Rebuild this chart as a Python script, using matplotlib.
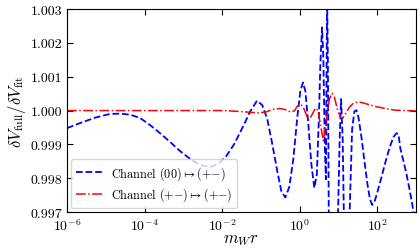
import numpy as np
import matplotlib
matplotlib.use("Agg")
import matplotlib.pyplot as plt
from matplotlib.ticker import FixedLocator, NullLocator

plt.rcParams['font.family'] = 'serif'
plt.rcParams['font.serif'] = ['cmr10']
plt.rcParams['mathtext.fontset'] = 'cm'
plt.rcParams['axes.unicode_minus'] = False
plt.rcParams['axes.formatter.use_mathtext'] = True

# channel (00) -> (+-) (log10 of m_W r, ratio)
log_r_00 = [-6.0, -5.664, -5.276, -4.889, -4.630, -4.372, -4.114, -3.855, -3.597, -3.339,
            -3.080, -2.822, -2.563, -2.305, -2.098, -1.891, -1.685, -1.478, -1.271, -1.098,
            -0.961, -0.832, -0.703, -0.574, -0.470, -0.367, -0.264, -0.160, -0.057, 0.021,
            0.090, 0.150, 0.227, 0.305, 0.382, 0.447, 0.499, 0.537, 0.581, 0.615,
            0.654, 0.680, 0.711, 0.731, 0.757, 0.873, 0.990, 1.036, 1.072, 1.114,
            1.145, 1.209, 1.295, 1.357, 1.416, 1.468, 1.519, 1.597, 1.674, 1.752,
            1.817, 1.873, 1.933, 2.010, 2.114, 2.217, 2.320, 2.424, 2.501, 2.553,
            2.604, 2.682, 2.760, 2.837, 2.915, 2.966]
ratio_00 = [0.99948, 0.99963, 0.99979, 0.99990, 0.99991, 0.99988, 0.99978, 0.99957, 0.99933, 0.99907,
            0.99880, 0.99857, 0.99839, 0.99833, 0.99842, 0.99865, 0.99901, 0.99948, 0.99998, 1.00029,
            1.00016, 0.99975, 0.99901, 0.99821, 0.99762, 0.99743, 0.99774, 0.99857, 0.99981, 1.00058,
            1.00083, 1.00058, 0.99960, 0.99842, 0.99771, 0.99812, 0.99975, 1.00137, 1.00246, 1.00152,
            0.99886, 0.99797, 1.00344, 1.00152, 0.99650, 0.99561, 0.99679, 0.99916, 1.00034, 0.99916,
            0.99679, 0.99590, 0.99709, 0.99945, 0.99998, 1.00001, 0.99981, 0.99922, 0.99851, 0.99783,
            0.99738, 0.99721, 0.99730, 0.99759, 0.99803, 0.99848, 0.99889, 0.99922, 0.99933, 0.99930,
            0.99886, 0.99851, 0.99812, 0.99768, 0.99718, 0.99679]

# channel (+-) -> (+-)
log_r_pm = [-6.0, -5.0, -4.0, -3.0, -2.0, -1.788, -1.40, -1.066, -0.858, -0.703,
            -0.522, -0.367, -0.238, -0.134, -0.057, 0.021, 0.098, 0.176, 0.240, 0.318,
            0.408, 0.473, 0.537, 0.615, 0.693, 0.770, 0.840, 0.899, 0.977, 1.054,
            1.119, 1.183, 1.287, 1.390, 1.494, 1.597, 1.752, 1.959, 2.217, 2.475,
            2.734, 3.0]
ratio_pm = [1.00000, 1.00000, 1.00000, 1.00000, 1.00000, 0.99999, 0.99996, 0.99993, 0.99996, 1.00003,
            1.00006, 1.00003, 0.99996, 0.99999, 1.00013, 1.00019, 1.00010, 0.99987, 0.99972, 0.99987,
            1.00007, 1.00001, 0.99960, 0.99911, 0.99969, 1.00034, 1.00051, 1.00040, 1.00004, 0.99981,
            0.99978, 0.99990, 1.00010, 1.00022, 1.00025, 1.00024, 1.00019, 1.00012, 1.00006, 1.00001,
            1.00000, 0.99999]

x_ticks = [1e-6, 1e-4, 1e-2, 1e0, 1e2]
y_ticks = [0.997, 0.998, 0.999, 1.000, 1.001, 1.002, 1.003]

fig = plt.figure(figsize=(4.2, 2.53), dpi=100)
ax = fig.add_axes([0.1595, 0.158, 0.8305, 0.802])

ax.plot(10 ** np.array(log_r_00), ratio_00, 'b--', lw=1.3, label=r'Channel $(00)\mapsto({+}{-})$')
ax.plot(10 ** np.array(log_r_pm), ratio_pm, 'r-.', lw=1.1, label=r'Channel $({+}{-})\mapsto({+}{-})$')

ax.set_xscale('log')
ax.set_xlim(1e-6, 1e3)
ax.set_ylim(0.997, 1.003)
ax.xaxis.set_major_locator(FixedLocator(x_ticks))
ax.xaxis.set_minor_locator(NullLocator())
ax.set_yticks(y_ticks)
ax.set_yticklabels(['%.3f' % v for v in y_ticks])
ax.tick_params(direction='in', top=True, right=True, labelsize=10, length=4)

ax.set_xlabel(r'$m_W r$', fontsize=12, labelpad=-1)
ax.set_ylabel(r'$\delta V_{\rm full}/\delta V_{\rm fit}$', fontsize=12, labelpad=2)
ax.legend(loc='lower left', fontsize=8.8, handlelength=2.2, handletextpad=0.7,
          labelspacing=0.3, borderaxespad=0.3)

fig.savefig('out.png', dpi=100)
